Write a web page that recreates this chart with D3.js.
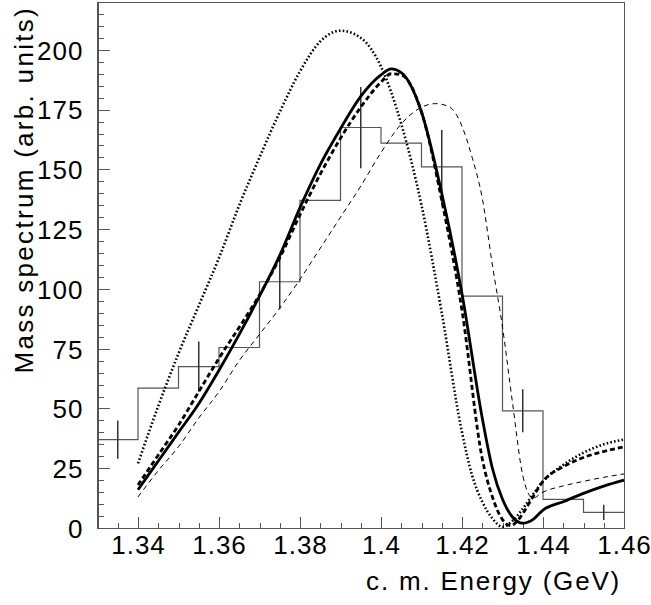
<!DOCTYPE html>
<html>
<head>
<meta charset="utf-8">
<title>Mass spectrum</title>
<script src="https://d3js.org/d3.v7.min.js"></script>
<style>
body {
	margin: 0;
	background-color: white;
}
text {
	font-family: "Liberation Sans", Arial, sans-serif;
	fill: black;
}
.axis path, .axis line {
	stroke: #555;
	stroke-width: 1;
	shape-rendering: crispEdges;
}
.ticklabel {
	font-size: 26px;
	letter-spacing: 1px;
}
.title {
	font-size: 26px;
	letter-spacing: 1.8px;
}
.ytitle {
	letter-spacing: 2.3px;
}
.hist {
	fill: none;
	stroke: #555;
	stroke-width: 1.2;
}
.err {
	stroke: #333;
	stroke-width: 1.5;
}
.curve {
	fill: none;
	stroke: black;
}
</style>
<script>
/* globals d3, window */
(function() {
"use strict";

const xMajor = [1.34, 1.36, 1.38, 1.40, 1.42, 1.44, 1.46];
const xTickLabels = ["1.34", "1.36", "1.38", "1.4", "1.42", "1.44", "1.46"];
const yMajor = [0, 25, 50, 75, 100, 125, 150, 175, 200];
const yTickLabels = ["0", "25", "50", "75", "100", "125", "150", "175", "200"];

// histogram, bins of 0.01 GeV starting at 1.33
const binLow = [1.33, 1.34, 1.35, 1.36, 1.37, 1.38, 1.39, 1.40, 1.41, 1.42, 1.43, 1.44, 1.45];
const histValues = [37, 58.5, 67.5, 75.5, 103, 137, 167.5, 161, 151, 97, 49, 12, 6.5];
const histErrors = [8, null, 10.5, null, 11.5, null, 17, null, 15.5, null, 9, null, 3.2];

// fitted curves [energy, value]
const solidCurve = [[1.34, 16], [1.345, 28], [1.35, 40], [1.355, 52], [1.36, 66], [1.365, 81],
	[1.37, 97], [1.375, 114], [1.38, 134], [1.385, 152], [1.39, 167], [1.395, 180.5], [1.40, 189.5],
	[1.4025, 192], [1.405, 190.5], [1.41, 174], [1.415, 140], [1.42, 98], [1.425, 46], [1.4275, 25],
	[1.43, 12], [1.4325, 4.5], [1.435, 2], [1.4375, 3.5], [1.44, 7.5], [1.445, 11], [1.45, 14.5],
	[1.455, 17.5], [1.46, 20]];
const thickDashCurve = [[1.34, 18], [1.345, 30.5], [1.35, 43], [1.355, 57], [1.36, 71], [1.365, 84],
	[1.37, 97.5], [1.375, 113], [1.38, 131], [1.385, 148], [1.39, 163], [1.395, 176], [1.40, 186.5],
	[1.4025, 190], [1.405, 189.5], [1.41, 174], [1.415, 137], [1.42, 91], [1.425, 29], [1.4275, 13],
	[1.43, 3.5], [1.432, 1], [1.4335, 2.6], [1.435, 6], [1.4375, 13], [1.44, 19.5], [1.445, 25.6],
	[1.45, 29.5], [1.455, 32], [1.46, 34]];
const dottedCurve = [[1.34, 27], [1.345, 51], [1.35, 73], [1.355, 93], [1.36, 113], [1.365, 135],
	[1.37, 155], [1.375, 174], [1.38, 191], [1.385, 203.5], [1.39, 208], [1.395, 205], [1.40, 193],
	[1.405, 169], [1.41, 135], [1.415, 90], [1.42, 40], [1.4225, 22], [1.425, 11], [1.4275, 4],
	[1.43, 0.5], [1.4325, 3], [1.435, 8], [1.4375, 14], [1.44, 19.5], [1.445, 26.4], [1.45, 31.5],
	[1.455, 35], [1.46, 37]];
const thinDashCurve = [[1.34, 13], [1.345, 24], [1.35, 34], [1.355, 46], [1.36, 57], [1.365, 70],
	[1.37, 81], [1.375, 92], [1.38, 104], [1.385, 117], [1.39, 130], [1.395, 143], [1.40, 157],
	[1.405, 169], [1.41, 176], [1.4135, 177.5], [1.417, 176], [1.42, 168], [1.4225, 155], [1.425, 138],
	[1.4275, 110], [1.43, 84], [1.4325, 52], [1.435, 22], [1.4375, 12.5], [1.44, 15], [1.445, 17.6],
	[1.45, 19.5], [1.455, 21.2], [1.46, 22.6]];

function main()
{
	const W = 651, H = 605;
	const left = 97.5, right = 624, top = 2, bottom = 528;

	const x = d3.scaleLinear([1.33, 1.46], [left, right]);
	const y = d3.scaleLinear([0, 220], [bottom, top]);

	const svg = d3.select("body").append("svg")
		.attr("width", W)
		.attr("height", H);

	// minor ticks
	const xMinor = d3.range(1.335, 1.4601, 0.005).filter(v => !xMajor.some(m => Math.abs(m - v) < 1e-6));
	const yMinor = d3.range(5, 220, 5).filter(v => v % 25 !== 0);

	svg.append("g")
		.attr("class", "axis")
		.attr("transform", "translate(0," + bottom + ")")
		.call(d3.axisBottom(x).tickValues(xMinor).tickSizeInner(-5.5).tickSizeOuter(0).tickFormat(""));
	const gx = svg.append("g")
		.attr("class", "axis")
		.attr("transform", "translate(0," + bottom + ")")
		.call(d3.axisBottom(x).tickValues(xMajor).tickSizeInner(-11).tickSizeOuter(0)
			.tickFormat((d, i) => xTickLabels[i]));
	gx.selectAll("text")
		.attr("class", "ticklabel")
		.attr("y", 26)
		.attr("dy", 0);

	svg.append("g")
		.attr("class", "axis")
		.attr("transform", "translate(" + left + ",0)")
		.call(d3.axisLeft(y).tickValues(yMinor).tickSizeInner(-6).tickSizeOuter(0).tickFormat(""));
	const gy = svg.append("g")
		.attr("class", "axis")
		.attr("transform", "translate(" + left + ",0)")
		.call(d3.axisLeft(y).tickValues(yMajor).tickSizeInner(-12).tickSizeOuter(0)
			.tickFormat((d, i) => yTickLabels[i]));
	gy.selectAll("text")
		.attr("class", "ticklabel")
		.attr("x", -14)
		.attr("dy", "0.36em");
	svg.selectAll(".axis").attr("font-size", null).attr("font-family", null);

	// frame
	svg.append("rect")
		.attr("x", left)
		.attr("y", top)
		.attr("width", right - left)
		.attr("height", bottom - top)
		.attr("fill", "none")
		.attr("stroke", "#555")
		.attr("shape-rendering", "crispEdges");

	// histogram
	const binW = 0.01;
	const steps = binLow.map((b, i) => [b, histValues[i]]);
	steps.push([binLow[binLow.length - 1] + binW, histValues[histValues.length - 1]]);
	svg.append("path")
		.attr("class", "hist")
		.attr("d", d3.line().x(d => x(d[0])).y(d => y(d[1])).curve(d3.curveStepAfter)(steps));

	const errs = binLow.map((b, i) => ({c: b + binW / 2, v: histValues[i], e: histErrors[i]}))
		.filter(d => d.e !== null);
	svg.selectAll(".err")
		.data(errs)
		.join("line")
		.attr("class", "err")
		.attr("x1", d => x(d.c))
		.attr("x2", d => x(d.c))
		.attr("y1", d => y(d.v - d.e))
		.attr("y2", d => y(d.v + d.e));

	// curves
	const line = d3.line().x(d => x(d[0])).y(d => y(d[1])).curve(d3.curveMonotoneX);
	const curves = [
		{data: thinDashCurve, width: 1, dash: "5,4"},
		{data: dottedCurve, width: 2.6, dash: "1.6,2.2"},
		{data: thickDashCurve, width: 2.8, dash: "5,3"},
		{data: solidCurve, width: 2.8, dash: null},
	];
	svg.selectAll(".curve")
		.data(curves)
		.join("path")
		.attr("class", "curve")
		.attr("stroke-width", d => d.width)
		.attr("stroke-dasharray", d => d.dash)
		.attr("d", d => line(d.data));

	// titles
	svg.append("text")
		.attr("class", "title")
		.attr("x", 621)
		.attr("y", 590)
		.attr("text-anchor", "end")
		.text("c. m. Energy (GeV)");
	svg.append("text")
		.attr("class", "title ytitle")
		.attr("transform", "translate(33,6) rotate(-90)")
		.attr("text-anchor", "end")
		.text("Mass spectrum (arb. units)");
}
window.addEventListener("DOMContentLoaded", main);
})();
</script>
</head>
<body>
</body>
</html>
